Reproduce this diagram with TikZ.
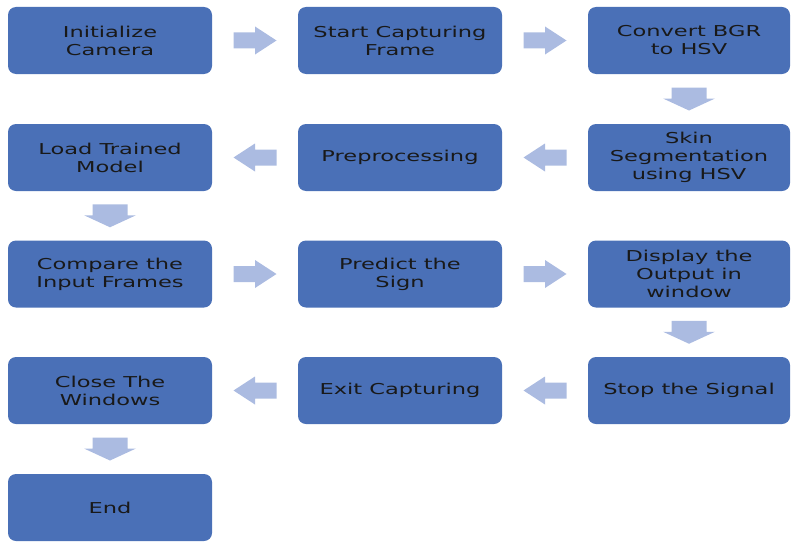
\documentclass[tikz,border=0pt]{standalone}
\usepackage{fontspec}
\setmainfont{DejaVu Sans}[FakeStretch=1.5]
\usetikzlibrary{calc}
\definecolor{boxblue}{HTML}{4A70B7}
\definecolor{arrowblue}{HTML}{ABBBE1}
\begin{document}
\begin{tikzpicture}[x=1pt,y=1pt,
  stepbox/.style={rectangle, rounded corners=8pt, fill=boxblue, draw=none,
    minimum width=204pt, minimum height=67pt, inner sep=0pt, align=center,
    text=black!90, font=\fontsize{15}{18}\selectfont},
  % block arrow pointing right, centred on its position
  hblock/.pic={\fill[arrowblue] (-21.5,-8) -- (0,-8) -- (0,-14) -- (21.5,0)
      -- (0,14) -- (0,8) -- (-21.5,8) -- cycle;},
  % block arrow pointing down, centred on its position
  vblock/.pic={\fill[arrowblue] (-17.5,11.5) -- (17.5,11.5) -- (17.5,0.5)
      -- (26,0.5) -- (0,-11.5) -- (-26,0.5) -- (-17.5,0.5) -- cycle;}]
\useasboundingbox (0,0) rectangle (791,-543);
% column centres 110, 400, 689; row centres 40.5, 157.5, 274, 390.5, 507.5
\node[stepbox] (init)    at (110,-40.5)  {Initialize\\Camera};
\node[stepbox] (capture) at (400,-40.5)  {Start Capturing\\Frame};
\node[stepbox, minimum width=202pt] (convert) at (689,-40.5) {Convert BGR\\to HSV};
\node[stepbox, minimum width=202pt] (skin)    at (689,-157.5) {Skin\\Segmentation\\using HSV};
\node[stepbox] (prep)    at (400,-157.5) {Preprocessing};
\node[stepbox] (load)    at (110,-157.5) {Load Trained\\Model};
\node[stepbox] (compare) at (110,-274)   {Compare the\\Input Frames};
\node[stepbox] (predict) at (400,-274)   {Predict the\\Sign};
\node[stepbox, minimum width=202pt] (display) at (689,-274) {Display the\\Output in\\window};
\node[stepbox, minimum width=202pt] (stop)    at (689,-390.5) {Stop the Signal};
\node[stepbox] (exit)    at (400,-390.5) {Exit Capturing};
\node[stepbox] (close)   at (110,-390.5) {Close The\\Windows};
\node[stepbox] (end)     at (110,-507.5) {End};
% block arrows between consecutive steps
\pic at ($(init.east)!0.5!(capture.west)$) {hblock};
\pic at ($(capture.east)!0.5!(convert.west)$) {hblock};
\pic at ($(convert.south)!0.5!(skin.north)$) {vblock};
\pic[rotate=180] at ($(skin.west)!0.5!(prep.east)$) {hblock};
\pic[rotate=180] at ($(prep.west)!0.5!(load.east)$) {hblock};
\pic at ($(load.south)!0.5!(compare.north)$) {vblock};
\pic at ($(compare.east)!0.5!(predict.west)$) {hblock};
\pic at ($(predict.east)!0.5!(display.west)$) {hblock};
\pic at ($(display.south)!0.5!(stop.north)$) {vblock};
\pic[rotate=180] at ($(stop.west)!0.5!(exit.east)$) {hblock};
\pic[rotate=180] at ($(exit.west)!0.5!(close.east)$) {hblock};
\pic at ($(close.south)!0.5!(end.north)$) {vblock};
\end{tikzpicture}
\end{document}
